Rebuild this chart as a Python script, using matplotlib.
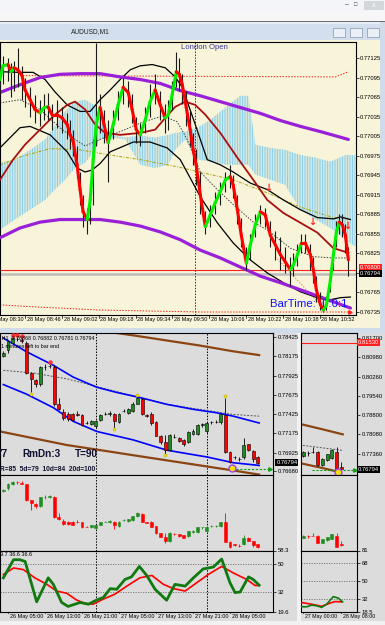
import matplotlib
matplotlib.use("Agg")
import matplotlib.pyplot as plt
from matplotlib.patches import Rectangle

plt.rcParams['font.family'] = ['Liberation Sans', 'DejaVu Sans']
plt.rcParams['hatch.linewidth'] = 0.7

W, H = 385, 625  # output size in pixels

# ---------------- AUDUSD,M1 (x = minutes after 28 May 08:30) ----------------
m1_t = [5.1, 6.4, 8.6, 9.9, 11.2, 12.9, 14.7, 16.0, 18.2, 20.3,
        22.5, 24.3, 26.0, 27.7, 29.9, 32.1, 34.3, 35.6, 36.9, 38.6,
        39.9, 41.2, 43.0, 44.3, 45.6, 46.9, 48.6, 50.3, 52.1, 54.3,
        56.4, 58.6, 60.8, 62.5, 64.3, 66.0, 68.2, 70.3, 72.5, 74.7,
        76.9, 78.2, 79.9, 81.7, 83.0, 84.3, 86.0, 87.7, 89.0, 90.3,
        92.1, 94.3, 96.4, 98.6, 100.8, 103.0, 105.1, 106.4, 108.2, 109.9,
        112.1, 113.8, 116.0, 118.2, 120.3, 122.5, 124.7, 126.9, 129.0, 131.2,
        132.5, 134.3, 136.0, 137.7, 139.9, 141.2, 142.5, 144.3, 145.6, 146.9,
        148.6, 149.9, 151.2, 152.5, 153.8, 155.1, 156.4]
m1_close = [0.77092, 0.77113, 0.77115, 0.77104, 0.77110, 0.77107, 0.77098, 0.77076, 0.77061, 0.77046,
            0.77041, 0.77049, 0.77050, 0.77038, 0.77038, 0.77033, 0.77023, 0.77007, 0.76997, 0.76961,
            0.76923, 0.76889, 0.76877, 0.76907, 0.76969, 0.77023, 0.77049, 0.77023, 0.76995, 0.77023,
            0.77053, 0.77080, 0.77072, 0.77046, 0.77015, 0.77007, 0.77030, 0.77058, 0.77076, 0.77053,
            0.77033, 0.77038, 0.77069, 0.77104, 0.77100, 0.77084, 0.77049, 0.77015, 0.76984, 0.76961,
            0.76915, 0.76866, 0.76884, 0.76903, 0.76920, 0.76938, 0.76943, 0.76930, 0.76892, 0.76853,
            0.76810, 0.76838, 0.76869, 0.76889, 0.76884, 0.76853, 0.76838, 0.76823, 0.76812, 0.76800,
            0.76807, 0.76823, 0.76841, 0.76841, 0.76823, 0.76800, 0.76769, 0.76746, 0.76738, 0.76746,
            0.76784, 0.76823, 0.76858, 0.76873, 0.76869, 0.76853, 0.76815]
m1_high = [0.77120, 0.77128, 0.77125, 0.77118, 0.77120, 0.77140, 0.77112, 0.77095, 0.77080, 0.77068,
           0.77060, 0.77070, 0.77072, 0.77055, 0.77060, 0.77050, 0.77040, 0.77030, 0.77015, 0.76990,
           0.76950, 0.76915, 0.76895, 0.76930, 0.77000, 0.77148, 0.77070, 0.77045, 0.77030, 0.77045,
           0.77075, 0.77095, 0.77090, 0.77070, 0.77035, 0.77025, 0.77050, 0.77085, 0.77100, 0.77075,
           0.77055, 0.77060, 0.77090, 0.77135, 0.77125, 0.77100, 0.77075, 0.77045, 0.77010, 0.76985,
           0.76950, 0.76890, 0.76900, 0.76920, 0.76935, 0.76950, 0.76960, 0.76945, 0.76915, 0.76880,
           0.76835, 0.76855, 0.76885, 0.76900, 0.76895, 0.76875, 0.76860, 0.76850, 0.76835, 0.76820,
           0.76825, 0.76840, 0.76855, 0.76855, 0.76840, 0.76820, 0.76790, 0.76765, 0.76752, 0.76760,
           0.76800, 0.76840, 0.76875, 0.76885, 0.76885, 0.76870, 0.76835]
m1_low = [0.77070, 0.77085, 0.77090, 0.77065, 0.77075, 0.77080, 0.77060, 0.77050, 0.77035, 0.77025,
          0.77020, 0.77030, 0.77030, 0.77015, 0.77018, 0.77010, 0.77000, 0.76985, 0.76975, 0.76940,
          0.76900, 0.76865, 0.76855, 0.76870, 0.76900, 0.76990, 0.77010, 0.76995, 0.76935, 0.77000,
          0.77030, 0.77055, 0.77050, 0.77025, 0.76995, 0.76990, 0.77010, 0.77035, 0.77055, 0.77030,
          0.77010, 0.77015, 0.77045, 0.77080, 0.77075, 0.77055, 0.77020, 0.76990, 0.76960, 0.76930,
          0.76885, 0.76855, 0.76865, 0.76885, 0.76900, 0.76920, 0.76925, 0.76910, 0.76870, 0.76835,
          0.76800, 0.76815, 0.76850, 0.76870, 0.76865, 0.76835, 0.76815, 0.76800, 0.76795, 0.76775,
          0.76790, 0.76805, 0.76825, 0.76825, 0.76800, 0.76780, 0.76750, 0.76738, 0.76735, 0.76738,
          0.76765, 0.76800, 0.76835, 0.76855, 0.76850, 0.76825, 0.76790]

m1_xticks = [0, 16, 32, 48, 64, 80, 96, 112, 128, 144]
m1_xlabels = ['28 May 08:30', '28 May 08:46', '28 May 09:02', '28 May 09:18', '28 May 09:34',
              '28 May 09:50', '28 May 10:06', '28 May 10:22', '28 May 10:38', '28 May 10:52']
m1_yticks = [0.77125, 0.77095, 0.77065, 0.77035, 0.77005, 0.76975, 0.76945,
             0.76915, 0.76885, 0.76855, 0.76825, 0.76795, 0.76765, 0.76735]

purple_up_t = [5.1, 13.8, 22.5, 31.2, 39.9, 48.6, 57.3, 66.0, 74.7, 83.4, 92.1, 100.8, 109.5, 118.2, 126.9, 135.6, 144.3, 156.4]
purple_up = [0.77072, 0.77084, 0.77095, 0.77100, 0.77101, 0.77101, 0.77096, 0.77092, 0.77086, 0.77075,
             0.77067, 0.77058, 0.77049, 0.77040, 0.77029, 0.77020, 0.77012, 0.77000]
purple_dn_t = [5.1, 13.8, 22.5, 31.2, 39.9, 48.6, 57.3, 66.0, 74.7, 83.4, 92.1, 100.8, 109.5, 118.2, 126.9, 135.6, 144.3, 157.3]
purple_dn = [0.76849, 0.76864, 0.76873, 0.76877, 0.76877, 0.76877, 0.76873, 0.76867, 0.76858, 0.76846,
             0.76830, 0.76818, 0.76804, 0.76790, 0.76780, 0.76769, 0.76758, 0.76741]

band_up_t = [5.1, 13.8, 19.5, 24.7, 29.0, 34.3, 39.9, 44.3, 48.6, 53.0, 57.3, 61.7, 66.0, 71.2, 76.9,
             81.2, 84.3, 89.9, 95.1, 100.8, 106.4, 113.8, 121.2, 128.2, 135.6, 142.9, 149.9, 153.0, 157.3]
band_up = [0.77104, 0.77103, 0.77103, 0.77092, 0.77073, 0.77053, 0.77043, 0.77043, 0.77061, 0.77076,
           0.77092, 0.77107, 0.77113, 0.77115, 0.77110, 0.77096, 0.77080, 0.77023, 0.76969, 0.76961,
           0.76950, 0.76933, 0.76923, 0.76907, 0.76892, 0.76880, 0.76878, 0.76881, 0.76877]
band_dn_t = [5.1, 13.8, 18.2, 26.9, 34.3, 38.6, 42.1, 45.1, 48.6, 53.0, 63.0, 70.3, 77.7, 83.4, 87.7,
             92.1, 99.5, 106.4, 113.8, 121.2, 128.2, 135.6, 142.9, 147.3, 153.0, 157.3]
band_dn = [0.76987, 0.77018, 0.77020, 0.77007, 0.76981, 0.76956, 0.76950, 0.76953, 0.76963, 0.76981,
           0.76996, 0.76996, 0.76987, 0.76969, 0.76941, 0.76912, 0.76872, 0.76841, 0.76815, 0.76795,
           0.76780, 0.76766, 0.76757, 0.76753, 0.76757, 0.76758]
band_mid_t = [5.1, 13.8, 22.5, 31.2, 37.7, 42.1, 48.6, 57.3, 67.3, 76.0, 82.1, 86.4, 92.1, 99.5, 106.4,
              115.1, 121.2, 131.2, 141.2, 149.9, 156.0]
band_mid = [0.77056, 0.77061, 0.77046, 0.77018, 0.77000, 0.76990, 0.77000, 0.77012, 0.77027, 0.77036,
            0.77027, 0.77000, 0.76950, 0.76923, 0.76900, 0.76873, 0.76861, 0.76833, 0.76820, 0.76818, 0.76818]

ma_red_t = [5.1, 10.8, 16.0, 22.5, 29.0, 34.3, 37.7, 42.1, 46.4, 50.8, 57.3, 66.0, 72.5, 76.9, 81.2,
            85.6, 89.9, 94.3, 100.8, 108.2, 115.1, 121.2, 128.2, 135.6, 142.9, 149.9, 156.4]
ma_red = [0.76938, 0.76969, 0.76992, 0.77015, 0.77038, 0.77053, 0.77058, 0.77046, 0.77023, 0.77010,
          0.77007, 0.77010, 0.77015, 0.77033, 0.77050, 0.77058, 0.77053, 0.77038, 0.77010, 0.76972,
          0.76938, 0.76907, 0.76887, 0.76872, 0.76857, 0.76833, 0.76826]

olive_t = [5.1, 13.8, 26.9, 39.9, 53.0, 66.0, 82.1, 106.4, 121.2, 135.6, 149.9, 156.4]
olive = [0.76961, 0.76973, 0.76986, 0.76984, 0.76976, 0.76969, 0.76958, 0.76938, 0.76918, 0.76896, 0.76880, 0.76877]
reddot_hi_t = [13.8, 150.8, 156.4]
reddot_hi = [0.77098, 0.77096, 0.77104]
reddot_lo_t = [5.1, 19.5, 48.6, 92.1, 135.6, 157.3]
reddot_lo = [0.76746, 0.76743, 0.76738, 0.76735, 0.76735, 0.76735]
pink_t = [124.7, 144.3]
pink = [0.76820, 0.76746]

cloud_t = [5.1, 11.6, 18.2, 24.7, 29.0, 33.4, 37.7, 42.1, 46.4, 48.6, 53.0, 59.5, 66.0, 72.5, 78.2,
           81.2, 85.6, 90.8, 96.4, 103.0, 109.5, 113.0, 116.0, 122.5, 129.0, 135.6, 142.1, 148.6, 155.1, 159.5]
cloud_a = [0.76964, 0.76969, 0.76984, 0.77000, 0.77021, 0.77043, 0.77058, 0.77061, 0.77052, 0.77030,
           0.77007, 0.77003, 0.77006, 0.77003, 0.77007, 0.77010, 0.77012, 0.77018, 0.77030, 0.77049,
           0.77067, 0.77067, 0.76992, 0.76987, 0.76984, 0.76976, 0.76972, 0.76966, 0.76976, 0.76976]
cloud_b = [0.76861, 0.76877, 0.76892, 0.76907, 0.76923, 0.76938, 0.76956, 0.76964, 0.76984, 0.77000,
           0.77003, 0.77000, 0.76961, 0.76956, 0.76961, 0.76984, 0.77000, 0.76969, 0.76966, 0.76961,
           0.76961, 0.76961, 0.76946, 0.76938, 0.76930, 0.76892, 0.76877, 0.76864, 0.76846, 0.76835]

arrow_t = [121.7, 140.8, 156.0]
arrow_p = [0.76926, 0.76873, 0.76867]
london_open_t = 90
bid_price = 0.76794
alert_price = 0.76800

# ---------------- AUDUSD,H1 (x = hours after 26 May 00:00) ----------------
h1_hour = list(range(4, 60))
h1_open = [0.78178, 0.78257, 0.78346, 0.78405, 0.78390, 0.78346, 0.77958, 0.77869, 0.77816, 0.78037,
           0.78045, 0.78037, 0.77552, 0.77455, 0.77428, 0.77428, 0.77420, 0.77411, 0.77310, 0.77296,
           0.77265, 0.77353, 0.77428, 0.77420, 0.77428, 0.77323, 0.77464, 0.77442, 0.77464, 0.77561,
           0.77618, 0.77411, 0.77428, 0.77323, 0.77142, 0.77058, 0.76957, 0.77133, 0.77120, 0.77089,
           0.77067, 0.77164, 0.77164, 0.77287, 0.77199, 0.77320, 0.77323, 0.77323, 0.77411, 0.76934,
           0.76868, 0.76837, 0.76868, 0.77032, 0.76943, 0.76868]
h1_high = [0.78240, 0.78390, 0.78434, 0.78440, 0.78420, 0.78368, 0.77971, 0.77883, 0.78046, 0.78081,
           0.78081, 0.78059, 0.77640, 0.77486, 0.77450, 0.77440, 0.77464, 0.77420, 0.77330, 0.77350,
           0.77350, 0.77420, 0.77450, 0.77460, 0.77442, 0.77440, 0.77490, 0.77500, 0.77580, 0.77660,
           0.77631, 0.77420, 0.77455, 0.77330, 0.77150, 0.77155, 0.77170, 0.77160, 0.77130, 0.77100,
           0.77200, 0.77225, 0.77300, 0.77310, 0.77320, 0.77340, 0.77345, 0.77430, 0.77640, 0.76950,
           0.76880, 0.76870, 0.77111, 0.77040, 0.76955, 0.76882]
h1_low = [0.78160, 0.78213, 0.78330, 0.78370, 0.78350, 0.77949, 0.77706, 0.77772, 0.77794, 0.77993,
          0.78020, 0.77530, 0.77478, 0.77353, 0.77340, 0.77340, 0.77398, 0.77274, 0.77290, 0.77280,
          0.77250, 0.77340, 0.77410, 0.77405, 0.77243, 0.77310, 0.77450, 0.77430, 0.77455, 0.77550,
          0.77415, 0.77385, 0.77287, 0.77135, 0.77040, 0.76912, 0.76940, 0.77110, 0.77060, 0.77015,
          0.77050, 0.77150, 0.77150, 0.77260, 0.77180, 0.77300, 0.77305, 0.77300, 0.76925, 0.76790,
          0.76840, 0.76815, 0.76846, 0.76950, 0.76800, 0.76781]
h1_close = [0.78222, 0.78368, 0.78412, 0.78395, 0.78370, 0.77958, 0.77883, 0.77816, 0.78037, 0.78040,
            0.78055, 0.77552, 0.77486, 0.77375, 0.77362, 0.77353, 0.77415, 0.77287, 0.77305, 0.77340,
            0.77340, 0.77411, 0.77430, 0.77442, 0.77340, 0.77428, 0.77468, 0.77486, 0.77561, 0.77631,
            0.77420, 0.77400, 0.77309, 0.77142, 0.77058, 0.76957, 0.77155, 0.77128, 0.77076, 0.77032,
            0.77190, 0.77208, 0.77287, 0.77290, 0.77309, 0.77323, 0.77325, 0.77420, 0.76934, 0.76802,
            0.76865, 0.76835, 0.77023, 0.76957, 0.76846, 0.76794]

h1_xticks = [5, 13, 21, 29, 37, 45, 53]
h1_xlabels = ['26 May 05:00', '26 May 13:00', '26 May 21:00', '27 May 05:00',
              '27 May 13:00', '27 May 21:00', '28 May 05:00']
h1_days = [24, 48]
h1_yticks = [0.78425, 0.78175, 0.77925, 0.77675, 0.77425, 0.77175, 0.76925, 0.76680]

blue_up_h = [4.0, 9.0, 14.8, 19.1, 24.2, 28.5, 33.5, 39.3, 45.1, 50.1, 53.7, 59.3]
blue_up = [0.78412, 0.78235, 0.78059, 0.77905, 0.77773, 0.77706, 0.77640, 0.77552, 0.77486, 0.77442, 0.77398, 0.77309]
blue_dn_h = [4.0, 9.0, 14.8, 19.1, 24.2, 32.1, 39.3, 43.6, 48.0, 53.7, 59.3]
blue_dn = [0.77808, 0.77684, 0.77508, 0.77331, 0.77199, 0.77089, 0.76957, 0.76912, 0.76868, 0.76793, 0.76758]
mid_h = [4.0, 10.5, 17.7, 24.9, 32.1, 39.3, 46.5, 53.7, 59.3]
mid = [0.77993, 0.77958, 0.77883, 0.77772, 0.77662, 0.77552, 0.77486, 0.77420, 0.77398]
brown_up_h = [23.5, 32.1, 39.3, 46.5, 53.7, 59.3]
brown_up = [0.78520, 0.78447, 0.78381, 0.78315, 0.78240, 0.78191]
brown_dn_h = [3.3, 10.5, 17.7, 24.9, 32.1, 39.3, 46.5, 53.7, 59.3]
brown_dn = [0.77199, 0.77111, 0.77023, 0.76957, 0.76890, 0.76824, 0.76758, 0.76692, 0.76639]
fractal_y_h = [10, 28, 33, 39, 52]
fractal_y = [0.77690, 0.77228, 0.77676, 0.76896, 0.77656]
fractal_r_h = [6, 7, 8, 14]
fractal_r = [0.78452, 0.78458, 0.78438, 0.78097]
target_h = [53.4, 61.6]
target_p = 0.76714

osc_green_h = [4.0, 6.2, 7.6, 8.7, 11.2, 13.7, 14.8, 16.6, 18.0, 20.6, 22.4, 24.2, 25.6, 27.1, 28.5, 30.3, 31.7,
               33.4, 35.0, 36.8, 39.3, 41.1, 43.3, 45.1, 47.2, 49.4, 51.2, 53.0, 54.1, 55.2, 57.0, 58.0, 59.3]
osc_green = [41.1, 52.5, 52.5, 51.4, 26.0, 41.1, 37.0, 25.6, 23.1, 25.6, 24.5, 27.2, 28.7, 34.3, 33.9, 40.1, 41.7,
             48.3, 42.6, 33.9, 27.0, 37.0, 35.9, 41.1, 46.7, 47.9, 52.9, 38.0, 31.8, 32.2, 41.7, 40.1, 36.5]
osc_red_h = [4.0, 6.2, 8.3, 10.8, 13.4, 15.5, 17.7, 19.8, 21.6, 23.4, 25.6, 28.1, 30.7, 33.5, 36.1, 38.6, 40.8,
             43.3, 45.8, 48.3, 51.2, 53.7, 56.6, 58.4, 59.3]
osc_red = [43.2, 47.3, 46.3, 41.1, 37.0, 32.8, 31.4, 27.2, 25.0, 24.5, 27.7, 30.8, 35.9, 41.1, 42.6, 37.0, 34.3,
           32.8, 38.0, 43.2, 48.3, 44.2, 40.1, 36.3, 36.3]

# ---------------- AUDUSD,H4 (x = bars after 27 May 00:00) ----------------
h4_bar = [0, 1, 2, 3, 4, 5, 6, 7, 8]
h4_open = [0.77275, 0.77400, 0.77440, 0.77437, 0.76938, 0.77126, 0.77226, 0.77437, 0.76868]
h4_high = [0.77476, 0.77476, 0.77624, 0.77476, 0.77200, 0.77376, 0.77564, 0.77624, 0.77064]
h4_low = [0.77250, 0.77275, 0.77400, 0.76901, 0.76920, 0.77100, 0.77189, 0.76627, 0.76751]
h4_close = [0.77437, 0.77395, 0.77430, 0.76938, 0.77189, 0.77351, 0.77526, 0.76687, 0.76794]
h4_xticks = [0, 8]
h4_xlabels = ['27 May 00:00', '28 May 08:00']
h4_yticks = [0.81700, 0.80980, 0.80260, 0.79540, 0.78820, 0.78100, 0.77380]
h4_ylabels = ['0.81700', '0.80980', '0.80260', '0.79540', '0.78800', '0.78080', '0.77360']
h4_brown_up_i = [-0.4, 4.0, 8.3]
h4_brown_up = [0.78476, 0.78290, 0.78100]
h4_brown_dn_i = [-0.4, 3.5, 7.1]
h4_brown_dn = [0.77013, 0.76863, 0.76713]
h4_mid_i = [-0.1, 8.3]
h4_mid = [0.77688, 0.77500]
h4_alert = 0.81530
h4_osc_green_i = [-0.36, 0.69, 1.75, 2.8, 3.85, 4.9, 6.3, 7.35, 8.27]
h4_osc_green = [23.8, 23.8, 25.5, 24.8, 23.2, 26.4, 34.1, 32.7, 28.8]
h4_osc_red_i = [-0.36, 1.75, 3.85, 5.6, 6.65, 8.06]
h4_osc_red = [28.1, 26.4, 24.3, 27.5, 29.1, 28.8]

CREAM = '#F7F4D9'
GREYBG = '#DCDCDC'
CANDLE_GREEN = '#1E8C1E'
AXFS = 4.2  # axis label size

fig = plt.figure(figsize=(W / 100, H / 100), dpi=100)
fig.patch.set_facecolor('#ECECEC')


def rect(x0, y0, x1, y1):
    return [x0 / W, 1 - y1 / H, (x1 - x0) / W, (y1 - y0) / H]


def box(x0, y0, x1, y1, fc, ec='none', lw=0, z=0):
    fig.add_artist(Rectangle((x0 / W, 1 - y1 / H), (x1 - x0) / W, (y1 - y0) / H,
                             transform=fig.transFigure, fc=fc, ec=ec, lw=lw, zorder=z))


def chart_axes(x0, y0, x1, y1, bg):
    ax = fig.add_axes(rect(x0, y0, x1, y1))
    ax.set_facecolor(bg)
    for s in ax.spines.values():
        s.set_linewidth(0.8)
        s.set_color('black')
    ax.yaxis.tick_right()
    ax.tick_params(axis='y', length=2, width=0.5, pad=1.2, labelsize=AXFS, colors='black')
    ax.tick_params(axis='x', length=0, labelbottom=False)
    return ax


def price_box(ax, price, text, fc):
    ax.text(1.012, price, text, transform=ax.get_yaxis_transform(), ha='left', va='center',
            fontsize=AXFS, color='white', clip_on=False, zorder=10,
            bbox=dict(boxstyle='square,pad=0.15', fc=fc, ec='none'))


def candles(ax, x, o, h, l, c, width, outline):
    cols = [CANDLE_GREEN if ci >= oi else '#FF0000' for oi, ci in zip(o, c)]
    wick = 'black' if outline else cols
    ax.vlines(x, l, h, colors=wick, lw=0.6, zorder=3)
    ax.bar(x, [ci - oi for oi, ci in zip(o, c)], bottom=o, width=width, color=cols,
           edgecolor='black' if outline else cols, lw=0.4, zorder=4)


def x_labels(ax, ticks, labels, size=AXFS):
    for t, lab in zip(ticks, labels):
        ax.annotate(lab, (t, 0), xycoords=ax.get_xaxis_transform(), xytext=(1.2, -1.5),
                    textcoords='offset points', ha='left', va='top', fontsize=size,
                    annotation_clip=False)
        ax.plot([t, t], [0, -0.012], transform=ax.get_xaxis_transform(), color='black',
                lw=0.5, clip_on=False)


# ---- window chrome ----
box(0, 0, 385, 11, '#F3F5F8')
box(0, 11, 385, 21, '#F7F7F7')
box(0, 20.5, 385, 22, '#6E6E6E')
box(0, 22, 385, 40, '#D3DFEE')
box(0, 22, 385, 24, '#E6EEF7')
box(364, 1, 384, 10, '#D3D7DC')
fig.text(347 / W, 1 - 5 / H, '\u2013', fontsize=5, ha='center', va='center', color='#444444')
fig.text(356 / W, 1 - 5 / H, '\u25a1', fontsize=4, ha='center', va='center', color='#444444')
fig.text(374 / W, 1 - 5.5 / H, 'x', fontsize=5, ha='center', va='center', color='white')
for bx in (333, 350, 367):
    box(bx, 28, bx + 12, 37, '#EAF0F6', ec='#8696AA', lw=0.5, z=1)
fig.text(90 / W, 1 - 32 / H, 'AUDUSD,M1', fontsize=4.8, ha='center', va='center', color='#222222')
box(0, 40, 380, 329, CREAM)
box(380, 22, 385, 333, '#D0DCEA')
box(0, 328, 385, 333, '#D0DCEA')
box(0, 333, 297, 621, GREYBG)
box(301, 333, 385, 621, GREYBG)
box(297, 333, 301, 621, '#F2F2F2')
box(0, 621, 385, 625, '#F2F2F2')

# ---- M1 chart ----
ax = chart_axes(0, 42, 355.5, 315, CREAM)
ax.set_xlim(5.13, 159.5)
ax.set_ylim(0.767304, 0.771496)
ax.set_yticks(m1_yticks)
ax.set_yticklabels(['%.5f' % v for v in m1_yticks])
ax.set_xticks([])
x_labels(ax, m1_xticks, m1_xlabels, 4.0)

ax.fill_between(cloud_t, cloud_a, cloud_b, facecolor='none', edgecolor='#8CCFEA', hatch='|' * 10, lw=0, zorder=1)
ax.axhline(bid_price, color='#BDBDBD', lw=1.8, zorder=1)
ax.axhline(alert_price, color='#FF2020', lw=0.8, zorder=2)
ax.axvline(london_open_t, color='#333333', ls=(0, (1.5, 1.5)), lw=0.7, zorder=2)
ax.plot(reddot_hi_t, reddot_hi, color='#FF2020', ls=(0, (1.5, 1.5)), lw=0.7, zorder=2)
ax.plot(reddot_lo_t, reddot_lo, color='#FF2020', ls=(0, (1.5, 1.5)), lw=0.7, zorder=2)
ax.plot(reddot_lo_t[-1], reddot_lo[-1], marker='>', color='#FF2020', ms=2.5, zorder=2, clip_on=False)
ax.plot(pink_t, pink, color='#F08080', ls=(0, (1.5, 1.5)), lw=0.7, zorder=2)
ax.plot(olive_t, olive, color='#A8A000', ls=(0, (3, 1.5, 1, 1.5)), lw=0.7, zorder=2)
ax.plot(band_mid_t, band_mid, color='#404040', ls=(0, (1.5, 1.5)), lw=0.7, zorder=2)
ax.plot(band_up_t, band_up, color='black', lw=0.9, zorder=3)
ax.plot(band_dn_t, band_dn, color='black', lw=0.9, zorder=3)
ax.plot(ma_red_t, ma_red, color='#A81010', lw=1.3, zorder=3)
ax.plot(purple_up_t, purple_up, color='#9A1FD8', lw=2.3, zorder=3, solid_capstyle='round')
ax.plot(purple_dn_t, purple_dn, color='#9A1FD8', lw=2.3, zorder=3, solid_capstyle='round')
ax.vlines(m1_t, m1_low, m1_high, colors='#1A1A1A', lw=0.8, zorder=4)
for i in range(len(m1_t) - 1):
    col = '#00F000' if m1_close[i + 1] > m1_close[i] else '#FF0000'
    ax.plot(m1_t[i:i + 2], m1_close[i:i + 2], color=col, lw=2.2, zorder=5, solid_capstyle='round')
for t, p in zip(arrow_t, arrow_p):
    ax.text(t, p, '\u2193', color='#FF2020', fontsize=7, fontweight='bold', ha='center', va='center',
            family='DejaVu Sans', zorder=6)
ax.text(94, 0.77141, 'London Open', color='#3A3A9A', fontsize=5.6, ha='center', va='center', zorder=6)
ax.text(122.3, 0.76748, 'BarTime:  0:0:1', color='#1010FF', fontsize=8.2, ha='left', va='center', zorder=4.5)
price_box(ax, alert_price + 0.00004, '%.5f' % alert_price, '#FF2020')
price_box(ax, bid_price, '%.5f' % bid_price, 'black')

# ---- H1 chart (three panes) ----
a1 = chart_axes(0, 333, 273, 474.5, GREYBG)
a2 = chart_axes(0, 474.5, 273, 550.5, GREYBG)
a3 = chart_axes(0, 550.5, 273, 612, GREYBG)
for a in (a1, a2, a3):
    a.set_xlim(3.27, 62.3)
    a.set_xticks([])
    for d in h1_days:
        a.axvline(d, color='black', ls=(0, (1.5, 1.5)), lw=0.7, zorder=2)

a1.set_ylim(0.7664, 0.78478)
a1.set_yticks(h1_yticks)
a1.set_yticklabels(['%.5f' % v for v in h1_yticks])
a1.plot(brown_up_h, brown_up, color='#8B4513', lw=1.6, zorder=2)
a1.plot(brown_dn_h, brown_dn, color='#8B4513', lw=1.6, zorder=2)
a1.plot(mid_h, mid, color='#555555', ls=(0, (2, 1.5)), lw=0.7, zorder=2)
a1.plot(blue_up_h, blue_up, color='#0000FF', lw=1.2, zorder=2)
a1.plot(blue_dn_h, blue_dn, color='#0000FF', lw=1.2, zorder=2)
candles(a1, h1_hour, h1_open, h1_high, h1_low, h1_close, 0.62, True)
a1.scatter(fractal_y_h, fractal_y, s=5, color='#F0E000', edgecolors='#B0A000', lw=0.3, zorder=5)
a1.scatter(fractal_r_h, fractal_r, s=5, color='#FF3030', zorder=5)
a1.plot(target_h, [target_p, target_p], color='#10A010', ls=(0, (2, 1.5)), lw=0.8, zorder=5, clip_on=False)
a1.plot(target_h[1], target_p, marker='>', color='#10A010', ms=2.5, zorder=5, clip_on=False)
a1.plot(target_h[0], target_p + 0.00008, marker='o', ms=5, mfc='#F0E000', mec='#A040FF', mew=1, zorder=6)
a1.text(0.0, 0.985, ',H1  0.76868 0.76882 0.76781 0.76794', transform=a1.transAxes, fontsize=3.9,
        va='top', ha='left', zorder=7)
a1.text(0.005, 0.925, '1 minutes left to bar end', transform=a1.transAxes, fontsize=3.9,
        va='top', ha='left', zorder=7)
a1.text(-0.012, 0.147, '77', transform=a1.transAxes, fontsize=7.2, fontweight='bold', color='#101030',
        va='center', ha='left', zorder=7)
a1.text(0.081, 0.147, 'RmDn:3', transform=a1.transAxes, fontsize=7.2, fontweight='bold', color='#101030',
        va='center', ha='left', zorder=7)
a1.text(0.275, 0.147, 'T=90', transform=a1.transAxes, fontsize=7.2, fontweight='bold', color='#101030',
        va='center', ha='left', zorder=7)
a1.text(-0.006, 0.035, 'IR=85  5d=79  10d=84  20d=100', transform=a1.transAxes, fontsize=4.8,
        fontweight='bold', color='#101030', va='center', ha='left', zorder=7)
price_box(a1, bid_price, '%.5f' % bid_price, 'black')

a2.set_ylim(0.76719, 0.78592)
a2.set_yticks([])
candles(a2, h1_hour, h1_open, h1_high, h1_low, h1_close, 0.62, False)

a3.set_ylim(19.6, 58.3)
a3.set_yticks([58.3, 50, 32, 19.6])
a3.set_yticklabels(['58.3', '50', '32', '19.6'])
for lvl in (50, 32):
    a3.axhline(lvl, color='#707070', ls=(0, (1.5, 1.5)), lw=0.6, zorder=1)
a3.plot(osc_red_h, osc_red, color='#FF0000', lw=1.2, zorder=3)
a3.plot(osc_green_h, osc_green, color='#107A10', lw=2.0, zorder=4)
a3.text(-0.012, 0.97, '39.7 36.6 36.6', transform=a3.transAxes, fontsize=4.0, va='top', ha='left', zorder=7)
x_labels(a3, h1_xticks, h1_xlabels, 4.0)

# ---- H4 chart (three panes) ----
b1 = chart_axes(301, 333, 357, 474.5, GREYBG)
b2 = chart_axes(301, 474.5, 357, 550.5, GREYBG)
b3 = chart_axes(301, 550.5, 357, 612, GREYBG)
for b in (b1, b2, b3):
    b.set_xlim(-0.5, 11.3)
    b.set_xticks([])

b1.set_ylim(0.76600, 0.81887)
b1.set_yticks(h4_yticks)
b1.set_yticklabels(h4_ylabels)
b1.axhline(h4_alert, color='#FF2020', lw=0.8)
b1.plot(h4_brown_up_i, h4_brown_up, color='#8B4513', lw=1.6)
b1.plot(h4_brown_dn_i, h4_brown_dn, color='#8B4513', lw=1.6)
b1.plot(h4_mid_i, h4_mid, color='#555555', ls=(0, (2, 1.5)), lw=0.7)
candles(b1, h4_bar, h4_open, h4_high, h4_low, h4_close, 0.62, True)
b1.plot([1.8, 10.8], [0.76751, 0.76751], color='#10A010', ls=(0, (2, 1.5)), lw=0.8, zorder=5)
b1.plot(10.8, 0.76751, marker='>', color='#10A010', ms=2.5, zorder=5)
b1.plot(7.3, 0.76690, marker='o', ms=5, mfc='#F0E000', mec='#A040FF', mew=1, zorder=6)
price_box(b1, h4_alert, '%.5f' % h4_alert, '#FF2020')
price_box(b1, bid_price, '%.5f' % bid_price, 'black')

b2.set_ylim(0.76413, 0.81695)
b2.set_yticks([])
candles(b2, h4_bar, h4_open, h4_high, h4_low, h4_close, 0.62, False)

b3.set_ylim(18.5, 81)
b3.set_yticks([81, 68, 50, 32, 18.5])
b3.set_yticklabels(['81', '68', '50', '32', '18.5'])
for lvl in (68, 50, 32):
    b3.axhline(lvl, color='#707070', ls=(0, (1.5, 1.5)), lw=0.6, zorder=1)
b3.plot(h4_osc_red_i, h4_osc_red, color='#FF0000', lw=1.2, zorder=3)
b3.plot(h4_osc_green_i, h4_osc_green, color='#107A10', lw=1.2, zorder=4)
x_labels(b3, h4_xticks, h4_xlabels, 3.8)

fig.savefig('out.png', dpi=100, facecolor=fig.get_facecolor())
